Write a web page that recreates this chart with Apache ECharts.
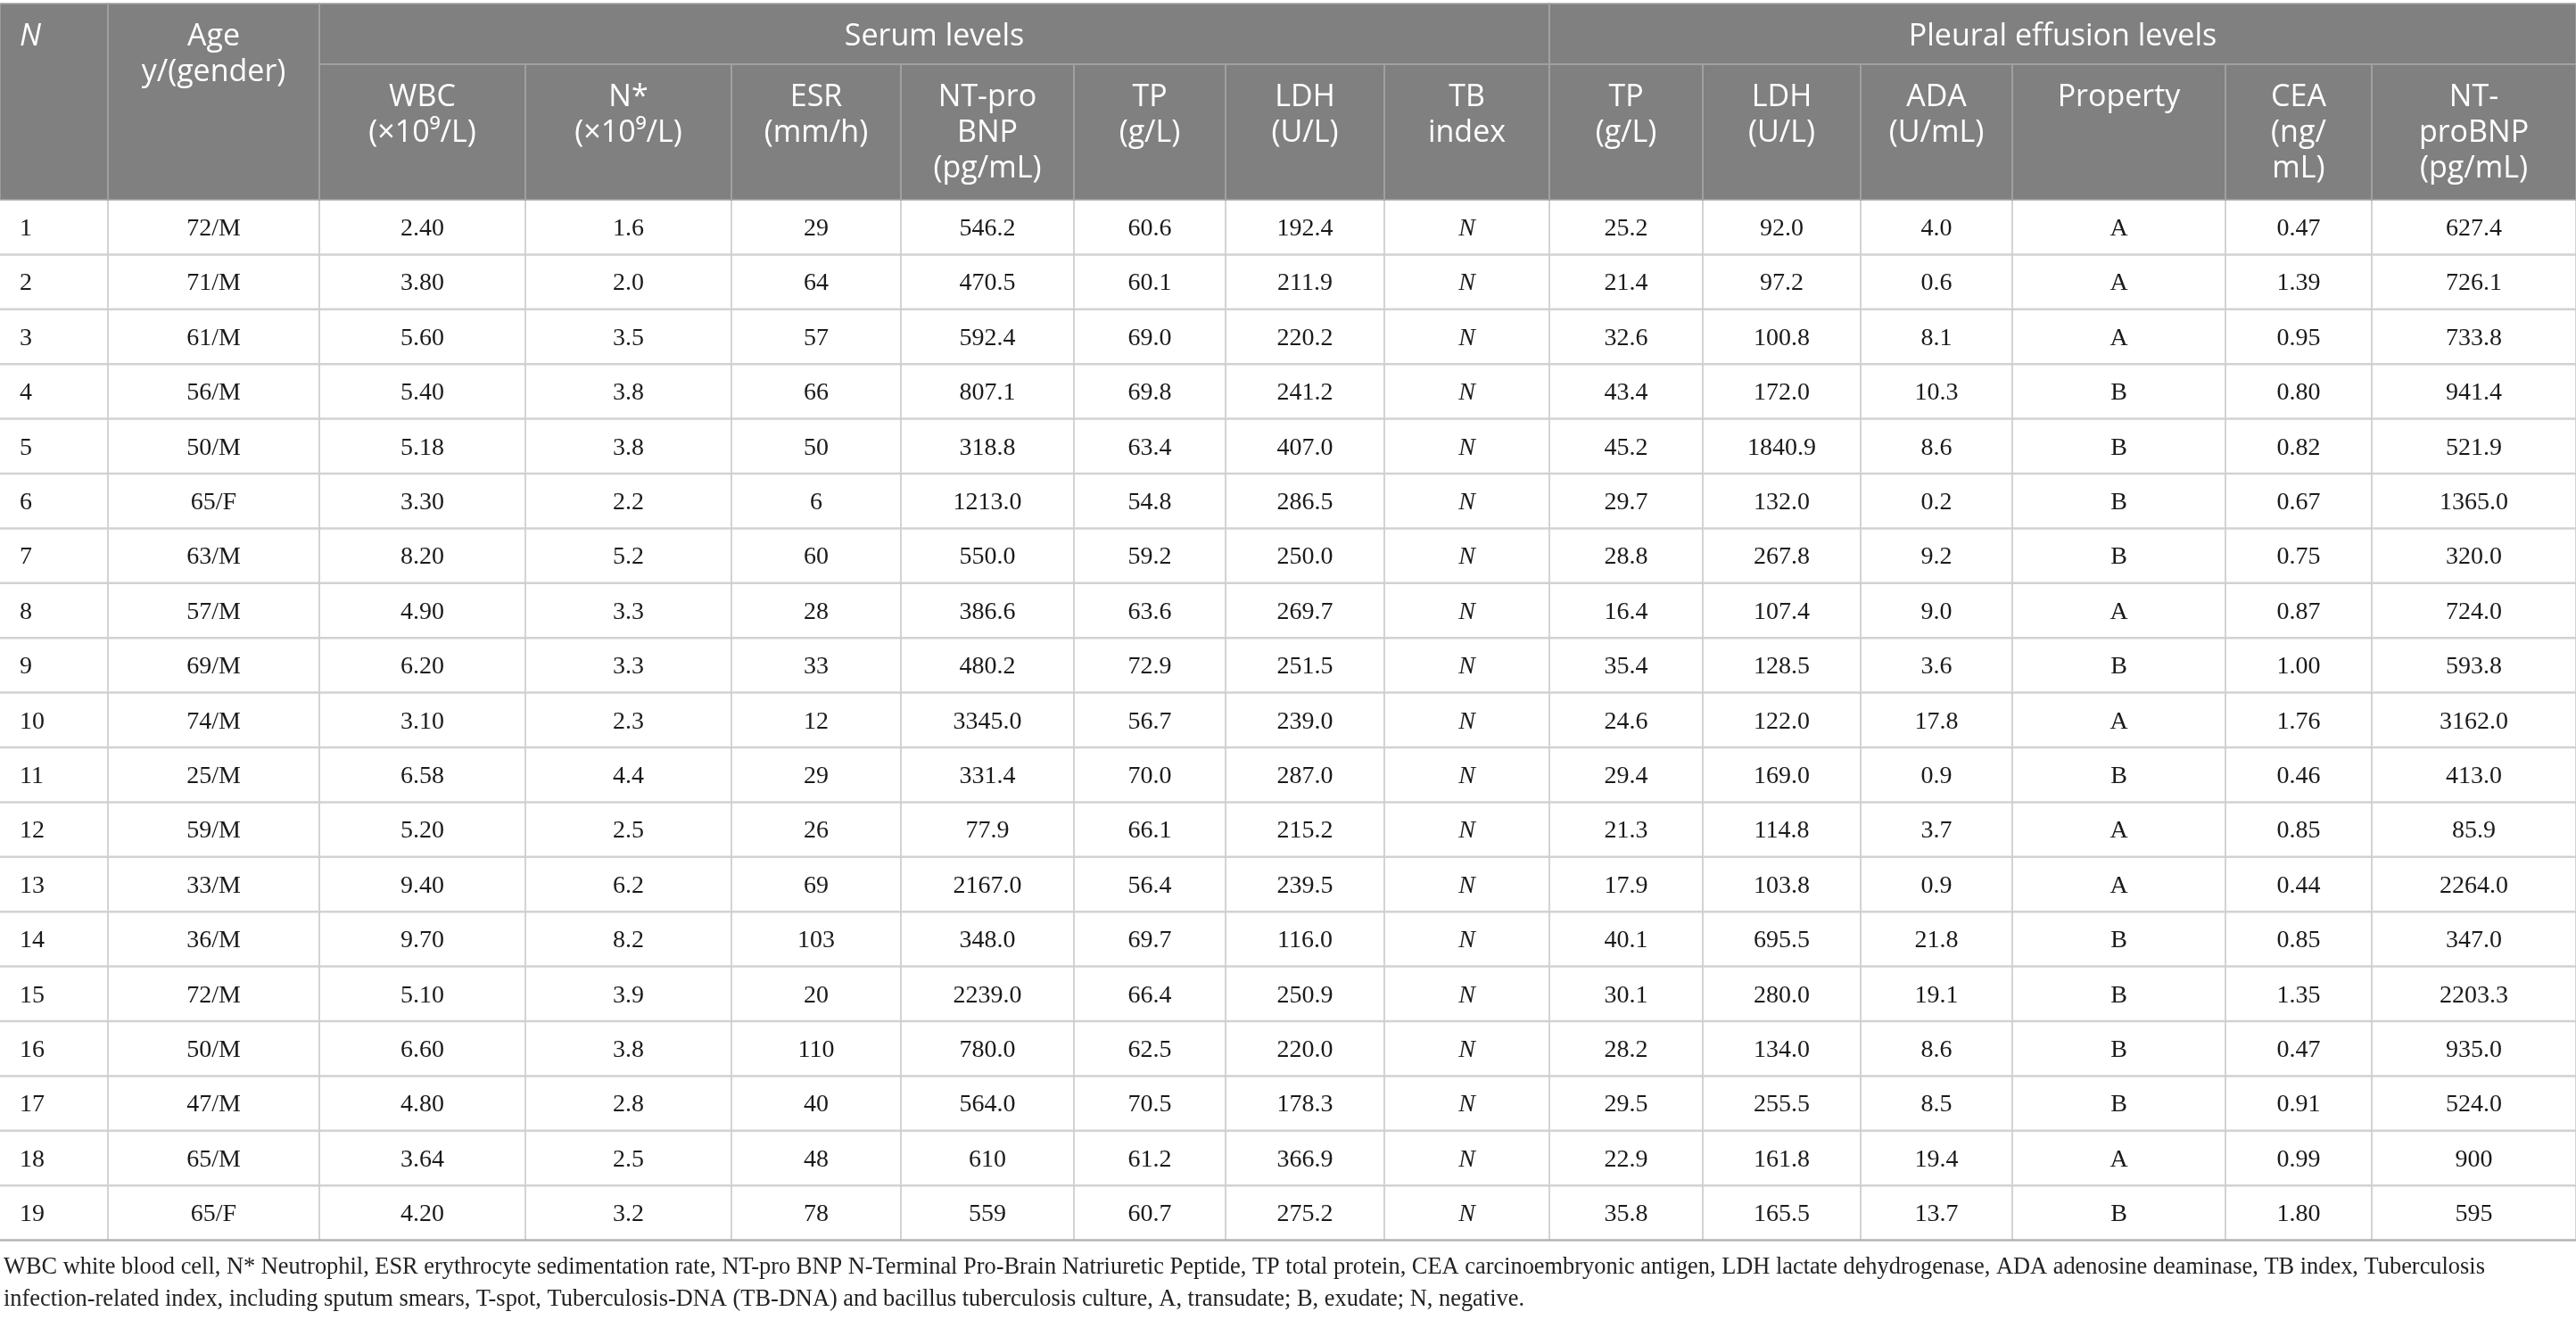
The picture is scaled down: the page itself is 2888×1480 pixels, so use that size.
<!DOCTYPE html>
<html style="height: 100%">
<head>
<meta charset="utf-8">
<title>ECharts</title>
<script src="https://cdn.jsdelivr.net/npm/echarts@6/dist/echarts.min.js"></script>
</head>
<body style="height: 100%; margin: 0; background: #fff">
<div id="container" style="width: 2888px; height: 1480px"></div>
<script type="text/javascript">
// table values, one array per column
var patientNo = ['1', '2', '3', '4', '5', '6', '7', '8', '9', '10', '11', '12', '13', '14', '15', '16', '17', '18', '19'];
var ageGender = ['72/M', '71/M', '61/M', '56/M', '50/M', '65/F', '63/M', '57/M', '69/M', '74/M', '25/M', '59/M', '33/M', '36/M', '72/M', '50/M', '47/M', '65/M', '65/F'];
var wbc = ['2.40', '3.80', '5.60', '5.40', '5.18', '3.30', '8.20', '4.90', '6.20', '3.10', '6.58', '5.20', '9.40', '9.70', '5.10', '6.60', '4.80', '3.64', '4.20'];
var neutrophil = ['1.6', '2.0', '3.5', '3.8', '3.8', '2.2', '5.2', '3.3', '3.3', '2.3', '4.4', '2.5', '6.2', '8.2', '3.9', '3.8', '2.8', '2.5', '3.2'];
var esr = ['29', '64', '57', '66', '50', '6', '60', '28', '33', '12', '29', '26', '69', '103', '20', '110', '40', '48', '78'];
var serumNtProBnp = ['546.2', '470.5', '592.4', '807.1', '318.8', '1213.0', '550.0', '386.6', '480.2', '3345.0', '331.4', '77.9', '2167.0', '348.0', '2239.0', '780.0', '564.0', '610', '559'];
var serumTp = ['60.6', '60.1', '69.0', '69.8', '63.4', '54.8', '59.2', '63.6', '72.9', '56.7', '70.0', '66.1', '56.4', '69.7', '66.4', '62.5', '70.5', '61.2', '60.7'];
var serumLdh = ['192.4', '211.9', '220.2', '241.2', '407.0', '286.5', '250.0', '269.7', '251.5', '239.0', '287.0', '215.2', '239.5', '116.0', '250.9', '220.0', '178.3', '366.9', '275.2'];
var tbIndex = ['N', 'N', 'N', 'N', 'N', 'N', 'N', 'N', 'N', 'N', 'N', 'N', 'N', 'N', 'N', 'N', 'N', 'N', 'N'];
var pleuralTp = ['25.2', '21.4', '32.6', '43.4', '45.2', '29.7', '28.8', '16.4', '35.4', '24.6', '29.4', '21.3', '17.9', '40.1', '30.1', '28.2', '29.5', '22.9', '35.8'];
var pleuralLdh = ['92.0', '97.2', '100.8', '172.0', '1840.9', '132.0', '267.8', '107.4', '128.5', '122.0', '169.0', '114.8', '103.8', '695.5', '280.0', '134.0', '255.5', '161.8', '165.5'];
var ada = ['4.0', '0.6', '8.1', '10.3', '8.6', '0.2', '9.2', '9.0', '3.6', '17.8', '0.9', '3.7', '0.9', '21.8', '19.1', '8.6', '8.5', '19.4', '13.7'];
var property = ['A', 'A', 'A', 'B', 'B', 'B', 'B', 'A', 'B', 'A', 'B', 'A', 'A', 'B', 'B', 'B', 'B', 'A', 'B'];
var cea = ['0.47', '1.39', '0.95', '0.80', '0.82', '0.67', '0.75', '0.87', '1.00', '1.76', '0.46', '0.85', '0.44', '0.85', '1.35', '0.47', '0.91', '0.99', '1.80'];
var pleuralNtProBnp = ['627.4', '726.1', '733.8', '941.4', '521.9', '1365.0', '320.0', '724.0', '593.8', '3162.0', '413.0', '85.9', '2264.0', '347.0', '2203.3', '935.0', '524.0', '900', '595'];

// header texts
var groupHeaders = ['Serum levels', 'Pleural effusion levels'];
var columnHeaders = ['N', 'Age\ny/(gender)', 'WBC\n(×10⁹/L)', 'N*\n(×10⁹/L)', 'ESR\n(mm/h)', 'NT-pro\nBNP\n(pg/mL)',
	'TP\n(g/L)', 'LDH\n(U/L)', 'TB\nindex', 'TP\n(g/L)', 'LDH\n(U/L)', 'ADA\n(U/mL)', 'Property',
	'CEA\n(ng/\nmL)', 'NT-\nproBNP\n(pg/mL)'];
var footnote = [
	'WBC white blood cell, N* Neutrophil, ESR erythrocyte sedimentation rate, NT-pro BNP N-Terminal Pro-Brain Natriuretic Peptide, TP total protein, CEA carcinoembryonic antigen, LDH lactate dehydrogenase, ADA adenosine deaminase, TB index, Tuberculosis',
	'infection-related index, including sputum smears, T-spot, Tuberculosis-DNA (TB-DNA) and bacillus tuberculosis culture, A, transudate; B, exudate; N, negative.'
];

var columns = [patientNo, ageGender, wbc, neutrophil, esr, serumNtProBnp, serumTp, serumLdh,
	tbIndex, pleuralTp, pleuralLdh, ada, property, cea, pleuralNtProBnp];

// layout (table units = page pixels)
var colEdges = [0, 121, 358, 589, 820, 1010, 1204, 1374, 1552, 1737, 1909, 2086, 2256, 2495, 2659, 2888];
var headEdges = [4, 72, 224];
var rowH = 61.4;
var sansFont = '"Open Sans", "Noto Sans", sans-serif';
var serifFont = '"Liberation Serif", "DejaVu Serif", serif';

// header cells: [col from, col to, row from, row to, text]
var headerCells = [
	[0, 1, 0, 2, columnHeaders[0]],
	[1, 2, 0, 2, columnHeaders[1]],
	[2, 9, 0, 1, groupHeaders[0]],
	[9, 15, 0, 1, groupHeaders[1]]
];
for (var c = 2; c < columnHeaders.length; c++) {
	headerCells.push([c, c + 1, 1, 2, columnHeaders[c]]);
}

var bodyCells = [];
for (var c = 0; c < columns.length; c++) {
	for (var r = 0; r < columns[c].length; r++) {
		bodyCells.push([c, r]);
	}
}

function cellRect(api, x0, y0, x1, y1) {
	var p0 = api.coord([x0, y0]);
	var p1 = api.coord([x1, y1]);
	return { x: p0[0], y: p0[1], width: p1[0] - p0[0], height: p1[1] - p0[1] };
}

var myChart = echarts.init(document.getElementById('container'));

var option = {
	animation: false,
	grid: { left: 0, right: 0, top: 0, bottom: 0 },
	xAxis: { type: 'value', min: 0, max: 2888, show: false },
	yAxis: { type: 'value', min: 0, max: 1480, inverse: true, show: false },
	graphic: [{
		type: 'text',
		left: 4,
		top: 1403,
		style: {
			text: footnote.join('\n'),
			fontFamily: serifFont,
			fontSize: 26.4,
			lineHeight: 36,
			fill: '#222'
		}
	}],
	series: [{
		name: 'header',
		type: 'custom',
		clip: false,
		data: headerCells.map(function (h, i) { return [i, 0]; }),
		renderItem: function (params, api) {
			var h = headerCells[params.dataIndex];
			var r = cellRect(api, colEdges[h[0]], headEdges[h[2]], colEdges[h[1]], headEdges[h[3]]);
			var left = h[0] === 0;
			return {
				type: 'group',
				children: [{
					type: 'rect',
					shape: r,
					z2: 0,
					style: { fill: '#808080' }
				}, {
					type: 'rect',
					shape: r,
					z2: 5,
					style: { fill: null, stroke: '#a2a2a2', lineWidth: 1.5 }
				}, {
					type: 'text',
					x: left ? r.x + 22 : r.x + r.width / 2,
					y: r.y + 17,
					z2: 10,
					style: {
						text: h[4],
						fill: '#fff',
						fontFamily: sansFont,
						fontSize: 34,
						fontStyle: left ? 'italic' : 'normal',
						lineHeight: 40,
						align: left ? 'left' : 'center',
						verticalAlign: 'top'
					}
				}]
			};
		}
	}, {
		name: 'body',
		type: 'custom',
		clip: false,
		data: bodyCells,
		renderItem: function (params, api) {
			var c = api.value(0), rw = api.value(1);
			var y0 = headEdges[2] + rw * rowH;
			var r = cellRect(api, colEdges[c], y0, colEdges[c + 1], y0 + rowH);
			var left = c === 0;
			var last = rw === columns[c].length - 1;
			return {
				type: 'group',
				children: [{
					type: 'line',
					shape: { x1: r.x + r.width, y1: r.y, x2: r.x + r.width, y2: r.y + r.height },
					style: { stroke: '#c4c4c4', lineWidth: 1.5 }
				}, {
					type: 'line',
					shape: { x1: r.x, y1: r.y + r.height, x2: r.x + r.width, y2: r.y + r.height },
					style: { stroke: last ? '#b4b4b4' : '#d2d2d2', lineWidth: 2.5 }
				}, {
					type: 'text',
					x: left ? r.x + 22 : r.x + r.width / 2,
					y: r.y + r.height / 2 + 2,
					style: {
						text: columns[c][rw],
						fill: '#1a1a1a',
						fontFamily: serifFont,
						fontSize: 28,
						fontStyle: c === 8 ? 'italic' : 'normal',
						align: left ? 'left' : 'center',
						verticalAlign: 'middle'
					}
				}]
			};
		}
	}]
};

myChart.setOption(option);
</script>
</body>
</html>
